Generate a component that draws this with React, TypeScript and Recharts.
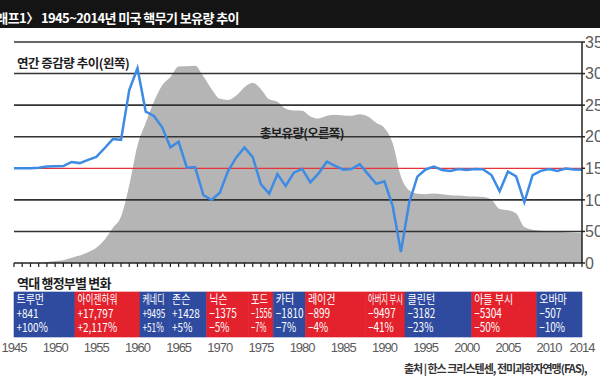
import React from 'react';
import {
  ComposedChart,
  Area,
  Line,
  XAxis,
  YAxis,
  ReferenceLine,
  ReferenceArea,
} from 'recharts';

// ---------- data ----------
const years = [
  1945, 1946, 1947, 1948, 1949, 1950, 1951, 1952, 1953, 1954,
  1955, 1956, 1957, 1958, 1959, 1960, 1961, 1962, 1963, 1964,
  1965, 1966, 1967, 1968, 1969, 1970, 1971, 1972, 1973, 1974,
  1975, 1976, 1977, 1978, 1979, 1980, 1981, 1982, 1983, 1984,
  1985, 1986, 1987, 1988, 1989, 1990, 1991, 1992, 1993, 1994,
  1995, 1996, 1997, 1998, 1999, 2000, 2001, 2002, 2003, 2004,
  2005, 2006, 2007, 2008, 2009, 2010, 2011, 2012, 2013, 2014,
];

// total stockpile (right axis)
const totalStockpile = [
  2, 9, 13, 50, 170, 299, 438, 841, 1169, 1703,
  2422, 3692, 5543, 7345, 12298, 18638, 22229, 25540, 28133, 29463,
  31139, 31175, 31255, 29561, 27552, 26008, 25830, 26516, 27835, 28537,
  27519, 25914, 25542, 24418, 24138, 24104, 23208, 22886, 23305, 23459,
  23368, 23317, 23575, 23205, 22217, 21392, 19008, 13708, 11511, 10979,
  10904, 11011, 10903, 10732, 10685, 10577, 10526, 10457, 10027, 8570,
  8360, 7853, 5709, 5273, 5113, 5066, 4897, 4881, 4804, 4717,
];

// annual change (left axis)
const annualChange = [
  2, 7, 4, 37, 120, 129, 139, 403, 328, 534,
  719, 1270, 1851, 1802, 4953, 6340, 3591, 3311, 2593, 1330,
  1676, 36, 80, -1694, -2009, -1544, -178, 686, 1319, 702,
  -1018, -1605, -372, -1124, -280, -34, -896, -322, 419, 154,
  -91, -51, 258, -370, -988, -825, -2384, -5300, -2197, -532,
  -75, 107, -108, -171, -47, -108, -51, -69, -430, -1457,
  -210, -507, -2144, -436, -160, -47, -169, -16, -77, -87,
];

const leftTicks = [-6000, -4000, -2000, 0, 2000, 4000, 6000, 8000];
const gridValues = [8000, 6000, 4000, 2000, -2000, -4000];
const rightTicks = [0, 5000, 10000, 15000, 20000, 25000, 30000, 35000];
const rightTickLabels = ['0', '5000', '10,000', '15,000', '20,000', '25,000', '30,000', '35,000'];
const yearLabels = [1945, 1950, 1955, 1960, 1965, 1970, 1975, 1980, 1985, 1990, 1995, 2000, 2005, 2010, 2014];

// administrations
const adminNames = ['트루먼', '아이젠하워', '케네디', '존슨', '닉슨', '포드', '카터', '레이건', '아버지 부시', '클린턴', '아들 부시', '오바마'];
const adminStart = [1945, 1952.4, 1960.3, 1963.9, 1968.4, 1973.5, 1976.5, 1980.4, 1987.7, 1992.5, 2000.6, 2008.5];
const adminEnd = [1952.4, 1960.3, 1963.9, 1968.4, 1973.5, 1976.5, 1980.4, 1987.7, 1992.5, 2000.6, 2008.5, 2014];
const adminParty = ['D', 'R', 'D', 'D', 'R', 'R', 'D', 'R', 'R', 'D', 'R', 'D'];
const adminChange = ['+841', '+17,797', '+9495', '+1428', '−1375', '−1556', '−1810', '−899', '−9497', '−3182', '−5304', '−507'];
const adminPercent = ['+100%', '+2,117%', '+51%', '+5%', '−5%', '−7%', '−7%', '−4%', '−41%', '−23%', '−50%', '−10%'];

const chartData = years.map((y, i) => ({ year: y, total: totalStockpile[i], change: annualChange[i] }));

// ---------- styles ----------
const BLUE = '#2e4b9f';
const RED = '#e3222d';
const LINE_BLUE = '#3d8be3';
const GREY_AREA = '#b5b5b5';
const AXIS_DARK = '#222222';
const GRID = '#333333';
const GRID_W = 1.6;
const KR = "'Noto Sans CJK KR', 'Noto Sans', sans-serif";
const LATIN = "'Liberation Sans', Arial, sans-serif";
const nameSqueeze: Record<string, number> = { '아이젠하워': 0.7, '케네디': 0.64, '포드': 0.74, '아버지 부시': 0.58 };
const numSqueeze: Record<string, number> = { '케네디': 0.66, '포드': 0.6 };

const BandLabel = (props: any) => {
  const { viewBox, name, change, pct } = props;
  if (!viewBox) return null;
  const x = viewBox.x + 2.5;
  const top = viewBox.y;
  const lines = [name, change, pct];
  return (
    <g>
      {lines.map((t: string, i: number) => {
        const s = i === 0 ? nameSqueeze[name] ?? 0.8 : numSqueeze[name] ?? 0.8;
        return (
          <text
            key={i}
            transform={`translate(${x} ${top + 12.5 + i * 13.8}) scale(${s} 1)`}
            fill="#ffffff"
            fontSize={12.5}
            fontFamily={KR}
          >
            {t}
          </text>
        );
      })}
    </g>
  );
};

const YearTick = (props: any) => {
  const { x, y, payload } = props;
  if (!yearLabels.includes(payload.value)) return <g />;
  return (
    <text x={x} y={y + 85} textAnchor="middle" fill="#5a5a5a" fontSize={13} letterSpacing={-1} fontFamily={LATIN}>
      {payload.value}
    </text>
  );
};

const pos = (left: number, top: number, size: number, extra: React.CSSProperties = {}): React.CSSProperties => ({
  position: 'absolute',
  left,
  top,
  fontSize: size,
  lineHeight: `${size}px`,
  whiteSpace: 'nowrap',
  fontFamily: KR,
  ...extra,
});

export default function App() {
  return (
    <div
      style={{
        position: 'fixed',
        left: 0,
        top: 0,
        width: 600,
        height: 382,
        overflow: 'hidden',
        background: '#ffffff',
        fontFamily: LATIN,
      }}
    >
      <ComposedChart
        width={600}
        height={382}
        data={chartData}
        margin={{ top: 42, right: 0, bottom: 0, left: 0 }}
      >
        <XAxis
          dataKey="year"
          type="number"
          domain={[1945, 2014]}
          ticks={years}
          interval={0}
          height={119}
          tickSize={4}
          tickMargin={0}
          axisLine={{ stroke: AXIS_DARK, strokeWidth: 1.5 }}
          tickLine={{ stroke: AXIS_DARK, strokeWidth: 1.2 }}
          tick={<YearTick />}
        />
        <YAxis
          yAxisId="left"
          orientation="left"
          width={14}
          domain={[-6000, 8000]}
          ticks={leftTicks}
          interval={0}
          tickSize={3}
          tickMargin={6}
          axisLine={{ stroke: AXIS_DARK, strokeWidth: 1.5 }}
          tickLine={{ stroke: AXIS_DARK, strokeWidth: 1.5 }}
          tick={{ fill: '#5a5a5a', fontSize: 16, fontFamily: LATIN }}
          tickFormatter={(v: number) => v.toLocaleString('en-US')}
        />
        <YAxis
          yAxisId="right"
          orientation="right"
          width={18}
          domain={[0, 35000]}
          ticks={rightTicks}
          interval={0}
          tickSize={3}
          tickMargin={0}
          axisLine={{ stroke: AXIS_DARK, strokeWidth: 1.5 }}
          tickLine={{ stroke: AXIS_DARK, strokeWidth: 1.5 }}
          tick={{ fill: '#5a5a5a', fontSize: 16, fontFamily: LATIN }}
          tickFormatter={(v: number) => rightTickLabels[rightTicks.indexOf(v)]}
        />
        <YAxis yAxisId="band" hide type="number" domain={[0, 1]} allowDataOverflow />
        <Area
          yAxisId="right"
          dataKey="total"
          type="monotone"
          fill={GREY_AREA}
          fillOpacity={1}
          stroke="none"
          isAnimationActive={false}
        />
        <ReferenceLine yAxisId="left" y={gridValues[0]} stroke={GRID} strokeWidth={GRID_W} />
        <ReferenceLine yAxisId="left" y={gridValues[1]} stroke={GRID} strokeWidth={GRID_W} />
        <ReferenceLine yAxisId="left" y={gridValues[2]} stroke={GRID} strokeWidth={GRID_W} />
        <ReferenceLine yAxisId="left" y={gridValues[3]} stroke={GRID} strokeWidth={GRID_W} />
        <ReferenceLine yAxisId="left" y={gridValues[4]} stroke={GRID} strokeWidth={GRID_W} />
        <ReferenceLine yAxisId="left" y={gridValues[5]} stroke={GRID} strokeWidth={GRID_W} />
        <ReferenceLine yAxisId="left" y={0} stroke="#e8323a" strokeWidth={1.3} />
        <Line
          yAxisId="left"
          dataKey="change"
          type="linear"
          stroke={LINE_BLUE}
          strokeWidth={2.5}
          dot={false}
          isAnimationActive={false}
        />
        {adminNames.map((name, i) => (
          <ReferenceArea
            key={name}
            yAxisId="band"
            x1={adminStart[i]}
            x2={adminEnd[i]}
            y1={-0.335}
            y2={-0.131}
            ifOverflow="visible"
            fill={adminParty[i] === 'D' ? BLUE : RED}
            fillOpacity={1}
            stroke={adminParty[i] === 'D' ? BLUE : RED}
            strokeWidth={0.6}
            label={<BandLabel name={name} change={adminChange[i]} pct={adminPercent[i]} />}
          />
        ))}
      </ComposedChart>

      {/* title bar */}
      <div style={{ position: 'absolute', left: 0, top: 0, width: 600, height: 28, background: '#141414' }} />
      <div style={pos(-15, 11, 13, { color: '#ffffff', fontWeight: 700, letterSpacing: -0.6 })}>
        그래프1〉 1945~2014년 미국 핵무기 보유량 추이
      </div>

      <div style={pos(17, 57, 12.5, { color: '#1e1e1e', fontWeight: 700, letterSpacing: -0.5 })}>
        연간 증감량 추이(왼쪽)
      </div>
      <div style={pos(260, 127, 12.5, { color: '#1e1e1e', fontWeight: 700, letterSpacing: -0.7 })}>
        총보유량(오른쪽)
      </div>
      <div style={pos(17, 275.5, 13, { color: '#1e1e1e', fontWeight: 700, letterSpacing: -0.8 })}>
        역대 행정부별 변화
      </div>
      <div style={pos(404, 362.5, 11, { color: '#333333', fontWeight: 700, letterSpacing: -1 })}>
        출처 | 한스 크리스텐센, 전미과학자연맹(FAS),
      </div>
    </div>
  );
}
